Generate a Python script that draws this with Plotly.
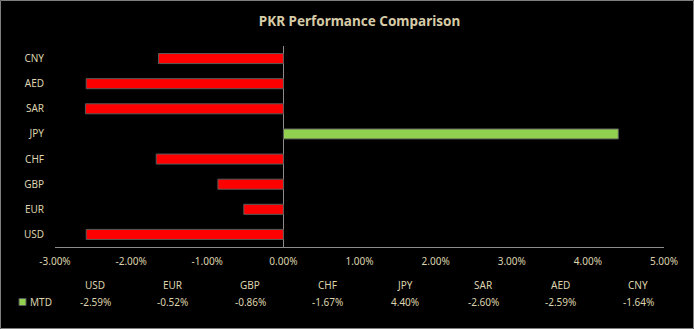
import plotly.graph_objects as go

categories = ["USD", "EUR", "GBP", "CHF", "JPY", "SAR", "AED", "CNY"]
mtd_values = [-2.59, -0.52, -0.86, -1.67, 4.40, -2.60, -2.59, -1.64]
x_ticks = [-3, -2, -1, 0, 1, 2, 3, 4, 5]
x_tick_labels = ["-3.00%", "-2.00%", "-1.00%", "0.00%", "1.00%", "2.00%", "3.00%", "4.00%", "5.00%"]
series_name = "MTD"

W, H = 694, 329
L, R, T, B = 55, 30, 46, 82
PW, PH = W - L - R, H - T - B

TXT = "#ddd3ad"
FONT = "Noto Sans"

def px_x(p):
    return (p - L) / PW

def px_y(p):
    return (H - B - p) / PH

colors = ["#92d050" if v > 0 else "#ff0000" for v in mtd_values]

fig = go.Figure(go.Bar(
    x=[v for v in mtd_values], y=categories, orientation="h",
    marker=dict(color=colors, line=dict(color="#595959", width=1)),
    width=0.4, name=series_name, showlegend=False,
))

fig.update_layout(
    width=W, height=H,
    paper_bgcolor="black", plot_bgcolor="black",
    margin=dict(l=L, r=R, t=T, b=B, pad=0),
    font=dict(family=FONT, size=10, color=TXT),
    title=dict(text="<b>PKR Performance Comparison</b>", x=0.5, xref="paper",
               y=1 - 21 / H, yanchor="middle",
               font=dict(family=FONT, size=13.5, color="#d6cba6")),
    xaxis=dict(range=[-3, 5], tickvals=x_ticks, ticktext=x_tick_labels,
               showgrid=False, zeroline=True, zerolinecolor="#8c8c8c", zerolinewidth=1,
               showline=True, linecolor="#8c8c8c", linewidth=1, ticks="",
               ticklabelstandoff=5,
               tickfont=dict(size=10, color=TXT), fixedrange=True),
    yaxis=dict(showgrid=False, zeroline=False, showline=False, ticks="",
               ticklabelstandoff=10, tickfont=dict(size=10, color=TXT)),
)

# data table under the axis
annotations = []
col0, colw = 95, 77.6
for i, (c, v) in enumerate(zip(categories, mtd_values)):
    cx = col0 + i * colw
    annotations.append(dict(x=px_x(cx), y=px_y(285), xref="paper", yref="paper",
                            text=c, showarrow=False, xanchor="center", yanchor="middle",
                            font=dict(size=10, color=TXT)))
    annotations.append(dict(x=px_x(cx), y=px_y(302), xref="paper", yref="paper",
                            text=f"{v:.2f}%", showarrow=False, xanchor="center", yanchor="middle",
                            font=dict(size=10, color=TXT)))
annotations.append(dict(x=px_x(28), y=px_y(302), xref="paper", yref="paper",
                        text=series_name, showarrow=False, xanchor="left", yanchor="middle",
                        font=dict(size=10, color=TXT)))
fig.update_layout(annotations=annotations)

shapes = [
    dict(type="rect", xref="paper", yref="paper",
         x0=px_x(19), x1=px_x(26), y0=px_y(298.5), y1=px_y(305.5),
         fillcolor="#92d050", line=dict(color="#595959", width=1)),
    dict(type="rect", xref="paper", yref="paper",
         x0=px_x(0.5), x1=px_x(W - 0.5), y0=px_y(0.5), y1=px_y(H - 0.5),
         line=dict(color="#7f7f7f", width=1)),
]
fig.update_layout(shapes=shapes)

fig.write_html("out.html")
